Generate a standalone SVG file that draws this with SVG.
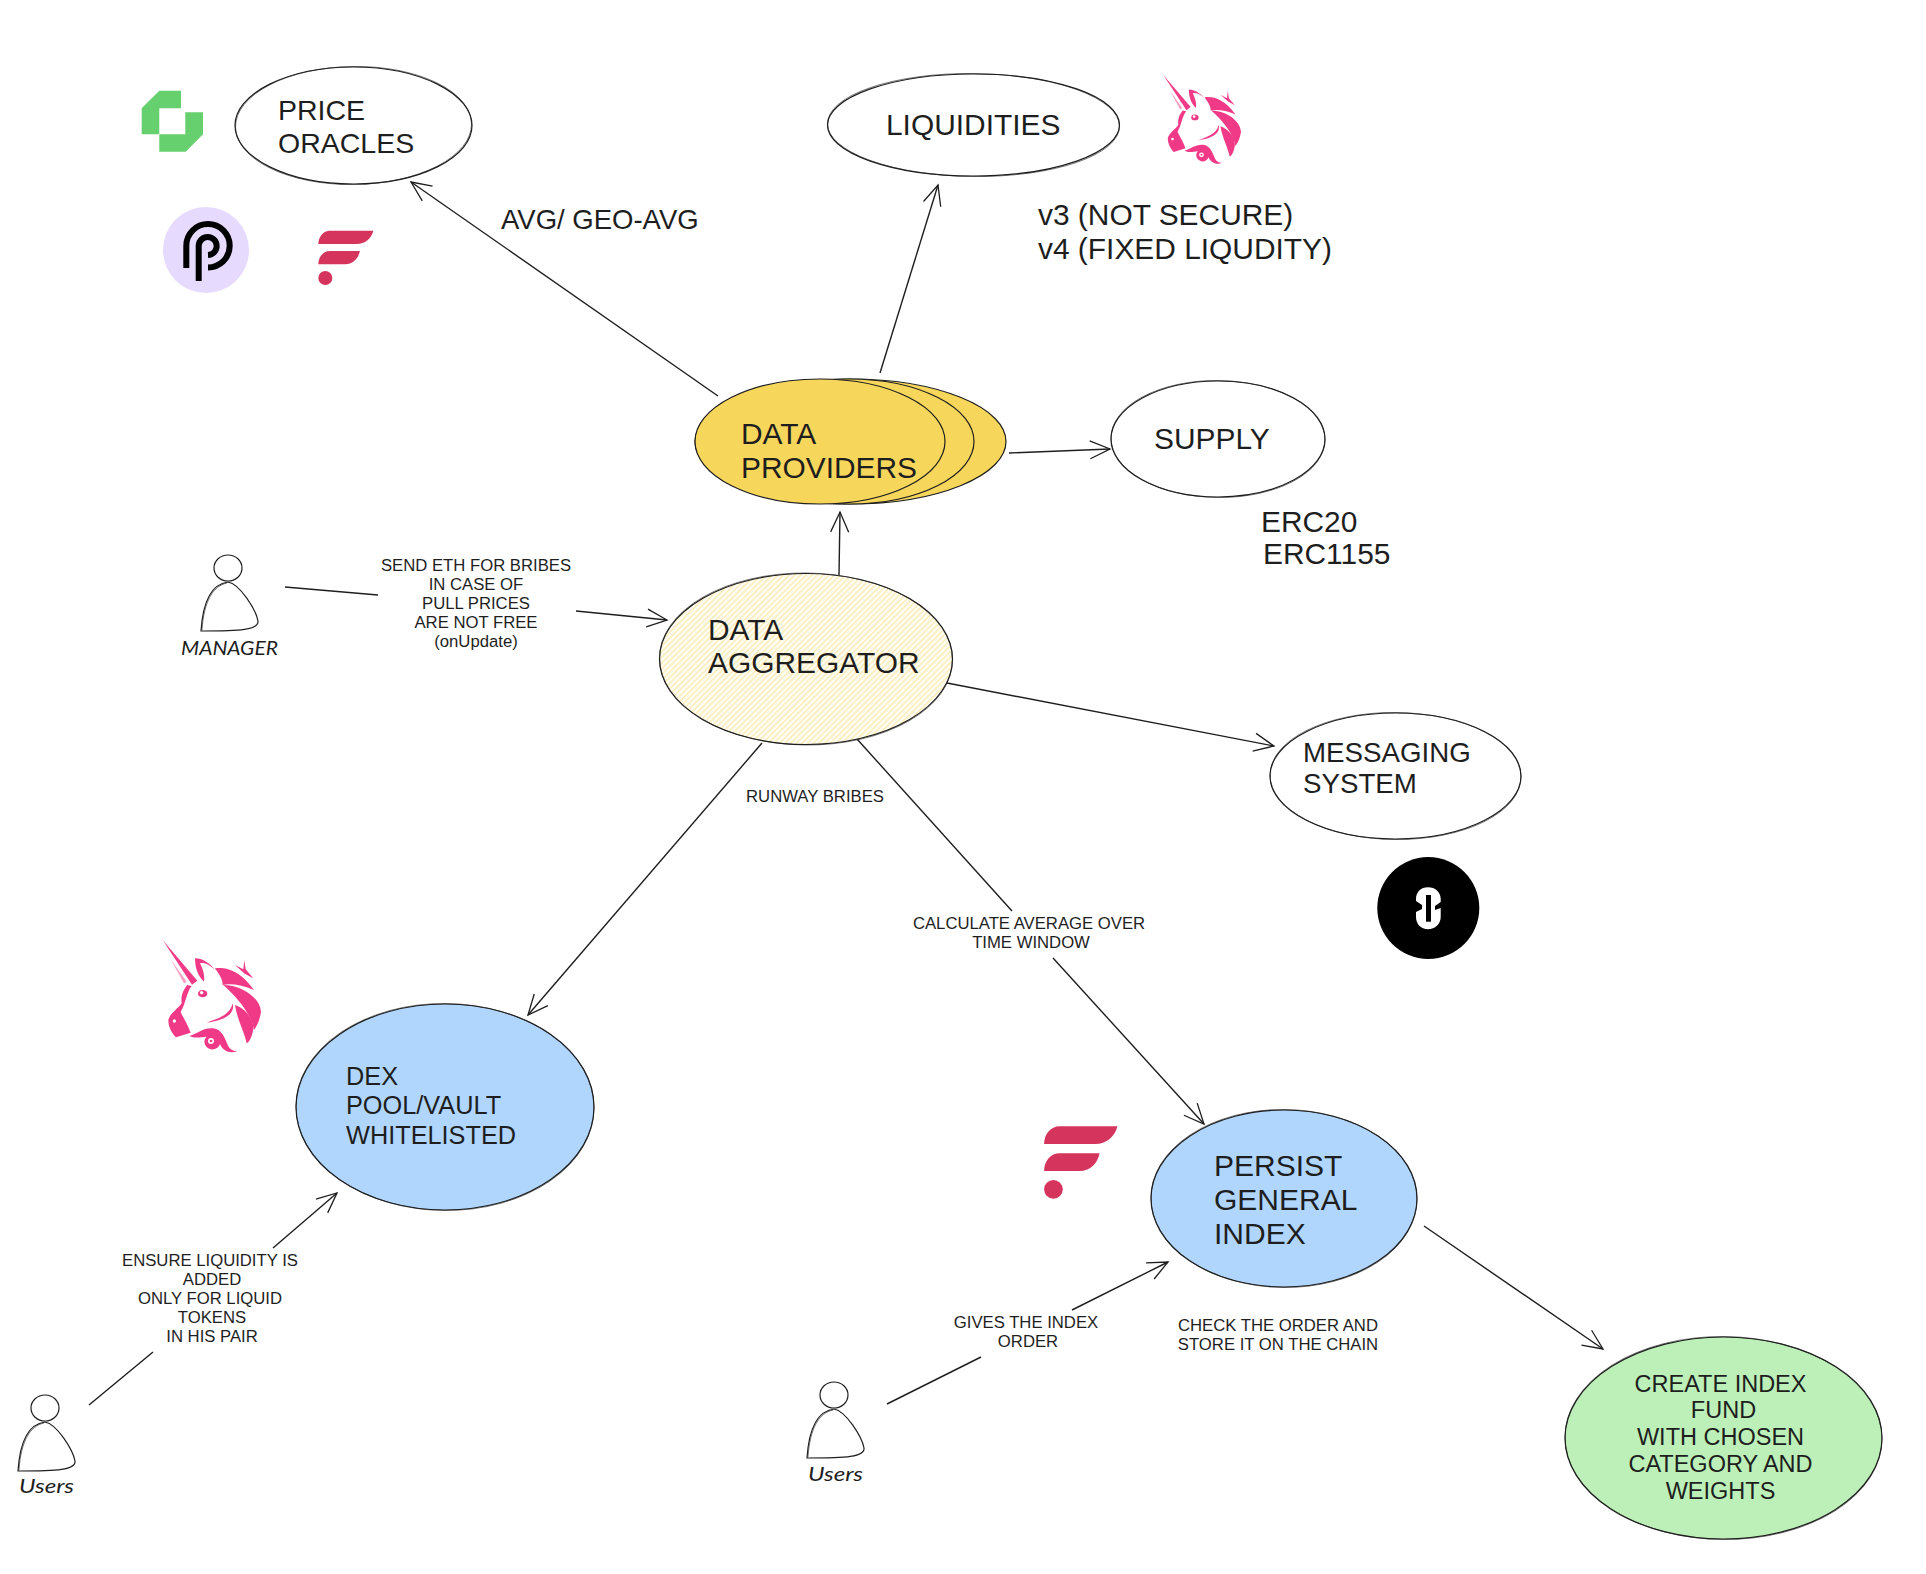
<svg xmlns="http://www.w3.org/2000/svg" xmlns:xlink="http://www.w3.org/1999/xlink" width="1926" height="1574" viewBox="0 0 1926 1574">
<style>
text{font-family:"Liberation Sans",Arial,sans-serif;fill:#1e1e1e}
.sk{stroke:#1e1e1e;stroke-width:1.2}
.sk2{stroke:#1e1e1e;stroke-width:.8;fill:none;opacity:.75}
.ln{stroke:#1e1e1e;stroke-width:1.4;fill:none}
.ar{marker-end:url(#arrow)}
.white{fill:#fff}.yellow{fill:#f7d65c}.blue{fill:#b1d6fd}.green{fill:#bcf0b8}.hatched{fill:url(#hatch)}.none{fill:none}
.t30{font-size:29.900px}.t285{font-size:28.500px}.t275{font-size:27.500px}.t277{font-size:27.700px}.t25{font-size:25.300px}.g30{font-size:30px}.t23{font-size:23.500px}
.s{font-size:16.700px;text-anchor:middle}
.c{text-anchor:middle}
.hand{font-family:"Lato","Liberation Sans",sans-serif;font-style:italic;font-weight:400}
.uni{fill:#f03a87}.fl{fill:#d5355c}
</style>
<defs>
<marker id="arrow" markerUnits="userSpaceOnUse" markerWidth="32" markerHeight="32" refX="22" refY="12" orient="auto" overflow="visible">
<path d="M2 3L22 12L2 21" fill="none" stroke="#1e1e1e" stroke-width="1.3"/>
</marker>
<pattern id="hatch" width="4" height="4" patternUnits="userSpaceOnUse" patternTransform="rotate(-45)">
<rect width="4" height="4" fill="#fffdf3"/><rect width="4" height="1.300" fill="#fbeab0"/>
</pattern>
<g id="flare">
<path d="M655 612C655 590 670 572 690 572H820C815 595 795 612 770 612Z"/>
<path d="M655 673C655 650 670 633 690 633H780C775 655 760 673 735 673Z"/>
<circle cx="676" cy="714" r="21"/>
</g>
<g id="unicorn">
<path d="M38 0L142 122L126 134Z"/>
<path d="M62 58L110 125L102 130Z" opacity=".5"/>
<path d="M112 135C100 150 92 165 95 190C85 205 60 220 55 240C55 260 65 280 78 292L122 278C112 250 95 225 92 215C108 190 108 160 125 138Z"/>
<path d="M135 55C160 55 185 75 195 90C178 72 160 66 150 70C158 85 165 105 162 125C145 110 135 85 135 55Z"/>
<path d="M195 85C225 80 270 90 312 150C280 135 240 130 218 135C218 115 205 100 195 85Z"/>
<path d="M283 60L287 88L310 115L284 101L255 75L280 88Z"/>
<path d="M220 135C270 135 330 170 333 215C330 240 320 260 312 270C305 225 265 175 220 135Z"/>
<path d="M255 195C285 205 310 235 310 265C308 285 300 305 290 310C285 280 262 240 255 195Z"/>
<path d="M248 190C255 215 235 240 170 248C205 235 240 225 248 190Z"/>
<ellipse cx="158" cy="161" rx="14" ry="11"/>
<path d="M118 288C145 280 160 262 190 265C215 268 225 295 232 312C238 328 250 334 262 333C240 343 218 332 210 312C205 325 190 332 178 326C163 320 158 300 170 290C150 292 135 296 118 288Z"/>
<circle cx="73" cy="243" r="5" fill="#fff"/>
<circle cx="155" cy="158" r="5" fill="#fff"/>
<circle cx="183" cy="303" r="9" fill="#fff"/>
<circle cx="183" cy="303" r="4"/>
</g>
<g id="person">
<ellipse cx="228" cy="568" rx="14" ry="13" class="sk none"/>
<path class="sk none" d="M201 631C203 600 212 584 228 582C240 584 256 610 258 621C259 630 240 631 201 631Z"/>
<path class="sk2" d="M202 630C204 601 213 586 227 583"/>
</g>
</defs>
<rect width="1926" height="1574" fill="#fff"/>

<g id="connectors">
<path class="ln ar" d="M718 396L411 182"/>
<path class="ln ar" d="M880 373L938 185"/>
<path class="ln ar" d="M1009 453L1110 449"/>
<path class="ln ar" d="M839 575L840 512"/>
<path class="ln" d="M285 587L378 595"/>
<path class="ln ar" d="M576 611L667 620"/>
<path class="ln ar" d="M947 683L1274 746"/>
<path class="ln ar" d="M762 743L528 1015"/>
<path class="ln" d="M857 739L1012 911"/>
<path class="ln ar" d="M1053 958L1204 1124"/>
<path class="ln" d="M89 1405L153 1352"/>
<path class="ln ar" d="M273 1248L337 1193"/>
<path class="ln" d="M887 1404L981 1357"/>
<path class="ln ar" d="M1072 1310L1168 1262"/>
<path class="ln ar" d="M1424 1226L1603 1349"/>
</g>

<g id="price-oracles">
<ellipse cx="353.500" cy="125.500" rx="118.500" ry="58.500" class="white sk"/>
<ellipse cx="353.500" cy="125.500" rx="118" ry="59" transform="rotate(-.8 353 125)" class="sk2"/>
<text class="t285" x="278" y="120">PRICE</text><text class="t285" x="278" y="153">ORACLES</text>
</g>
<g id="liquidities">
<ellipse cx="973.500" cy="125" rx="146" ry="51" class="white sk"/>
<ellipse cx="973.500" cy="125" rx="146" ry="51.500" transform="rotate(.6 973 125)" class="sk2"/>
<text class="t30" x="886" y="135">LIQUIDITIES</text>
</g>
<g id="data-providers">
<ellipse cx="850.500" cy="441.500" rx="155.500" ry="62.500" class="yellow sk"/>
<ellipse cx="849" cy="441.500" rx="125" ry="62.500" class="yellow sk"/>
<ellipse cx="820" cy="441.500" rx="125" ry="62.500" class="yellow sk"/>
<text class="t30" x="741" y="444">DATA</text><text class="t30" x="741" y="478">PROVIDERS</text>
</g>
<g id="supply">
<ellipse cx="1218" cy="439" rx="107" ry="58" class="white sk"/>
<ellipse cx="1218" cy="439" rx="107" ry="58.500" transform="rotate(.7 1218 439)" class="sk2"/>
<text class="t30" x="1154" y="449">SUPPLY</text>
</g>
<g id="data-aggregator">
<ellipse cx="806" cy="659" rx="146.500" ry="85.500" class="hatched sk"/>
<ellipse cx="806" cy="659" rx="146.500" ry="86" transform="rotate(.6 806 659)" class="sk2"/>
<text class="t30" x="708" y="640">DATA</text><text class="t30" x="708" y="673">AGGREGATOR</text>
</g>
<g id="messaging-system">
<ellipse cx="1395.500" cy="776" rx="125.500" ry="63" class="white sk"/>
<ellipse cx="1395.500" cy="776" rx="125.500" ry="63.500" transform="rotate(.6 1395 776)" class="sk2"/>
<text class="t277" x="1303" y="762">MESSAGING</text><text class="t277" x="1303" y="793">SYSTEM</text>
</g>
<g id="dex">
<ellipse cx="445" cy="1107" rx="149" ry="103" class="blue sk"/>
<ellipse cx="445" cy="1107" rx="149" ry="103.500" transform="rotate(.6 445 1107)" class="sk2"/>
<text class="t25" x="346" y="1085">DEX</text><text class="t25" x="346" y="1114">POOL/VAULT</text><text class="t25" x="346" y="1143.500">WHITELISTED</text>
</g>
<g id="persist">
<ellipse cx="1284" cy="1198.500" rx="133" ry="88.500" class="blue sk"/>
<ellipse cx="1284" cy="1198.500" rx="133" ry="89" transform="rotate(.6 1284 1198)" class="sk2"/>
<text class="g30" x="1214" y="1175.500">PERSIST</text><text class="g30" x="1214" y="1209.500">GENERAL</text><text class="g30" x="1214" y="1243.500">INDEX</text>
</g>
<g id="create-index">
<ellipse cx="1723.500" cy="1438" rx="158.500" ry="101" class="green sk"/>
<ellipse cx="1723.500" cy="1438" rx="158.500" ry="101.500" transform="rotate(.6 1723 1438)" class="sk2"/>
<text class="t23 c" x="1720.500" y="1392">CREATE INDEX</text><text class="t23 c" x="1723.500" y="1418">FUND</text><text class="t23 c" x="1720.500" y="1445">WITH CHOSEN</text><text class="t23 c" x="1720.500" y="1472">CATEGORY AND</text><text class="t23 c" x="1720.500" y="1499">WEIGHTS</text>
</g>

<g id="manager"><use xlink:href="#person" href="#person"/><text class="hand" x="181" y="655" font-size="20" textLength="97" lengthAdjust="spacingAndGlyphs">MANAGER</text></g>
<g id="users-left"><use xlink:href="#person" href="#person" transform="translate(-183 840)"/><text class="hand" x="19" y="1493" font-size="20" textLength="55" lengthAdjust="spacingAndGlyphs">Users</text></g>
<g id="users-mid"><use xlink:href="#person" href="#person" transform="translate(606 827)"/><text class="hand" x="808" y="1481" font-size="20" textLength="55" lengthAdjust="spacingAndGlyphs">Users</text></g>

<g id="labels">
<text class="t275" x="501" y="229">AVG/ GEO-AVG</text>
<text class="t30" x="1038" y="225">v3 (NOT SECURE)</text><text class="t30" x="1038" y="258.500">v4 (FIXED LIQUDITY)</text>
<text class="t30" x="1261" y="532">ERC20</text><text class="t30" x="1263" y="564">ERC1155</text>
<text class="s" x="476" y="570.500">SEND ETH FOR BRIBES</text><text class="s" x="476" y="589.500">IN CASE OF</text><text class="s" x="476" y="608.500">PULL PRICES</text><text class="s" x="476" y="627.500">ARE NOT FREE</text><text class="s" x="476" y="647">(onUpdate)</text>
<text class="s" x="815" y="802">RUNWAY BRIBES</text>
<text class="s" x="1029" y="929">CALCULATE AVERAGE OVER</text><text class="s" x="1031" y="948">TIME WINDOW</text>
<text class="s" x="210" y="1266">ENSURE LIQUIDITY IS</text><text class="s" x="212" y="1285">ADDED</text><text class="s" x="210" y="1304">ONLY FOR LIQUID</text><text class="s" x="212" y="1323">TOKENS</text><text class="s" x="212" y="1342">IN HIS PAIR</text>
<text class="s" x="1026" y="1328">GIVES THE INDEX</text><text class="s" x="1028" y="1347">ORDER</text>
<text class="s" x="1278" y="1331">CHECK THE ORDER AND</text><text class="s" x="1278" y="1350">STORE IT ON THE CHAIN</text>
</g>

<g id="logo-chronicle" fill="#66cf6e">
<path d="M159.300 90.700H181V108.300H159.300V134.300H141.700V108.300Z"/>
<path d="M185.300 112.300H203V134.300L185.700 151.700H159.300V134.300H185.300Z"/>
</g>
<g id="logo-pyth">
<circle cx="206" cy="250" r="43" fill="#e6dafe"/>
<path d="M186.300 268V245.700A21.700 21.700 0 1 1 208 267.500M198.700 281V245.700A9 9 0 1 1 208 255" fill="none" stroke="#000" stroke-width="6"/>
</g>
<use id="logo-flare-top" class="fl" xlink:href="#flare" href="#flare" transform="translate(100 40) scale(.3333)"/>
<use id="logo-flare-bottom" class="fl" xlink:href="#flare" href="#flare" transform="translate(753 872) scale(.4444)"/>
<use id="logo-uni-top" class="uni" xlink:href="#unicorn" href="#unicorn" transform="translate(1153.300 75) scale(.2633)"/>
<use id="logo-uni-bottom" class="uni" xlink:href="#unicorn" href="#unicorn" transform="translate(150 940) scale(.3333)"/>
<g id="logo-layerzero">
<circle cx="1428.300" cy="908" r="51" fill="#000"/>
<path fill="#fff" d="M1416 901V899C1416 892 1421 887.300 1428 887.300C1435 887.300 1440.700 892 1440.700 899V902L1435 906V910L1440.700 908V917C1440.700 924 1435 929.300 1428 929.300C1421 929.300 1416 924 1416 917V912L1422 909V905Z"/>
<rect x="1426" y="895" width="5" height="26.700" fill="#000"/>
</g>
</svg>
